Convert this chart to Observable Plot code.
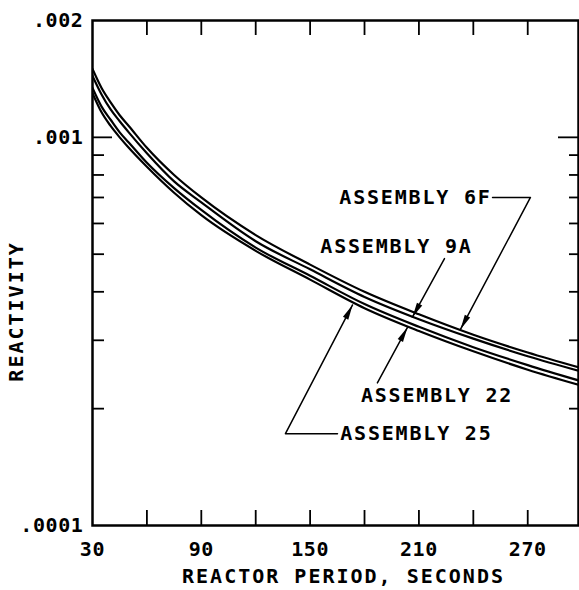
<!DOCTYPE html>
<html><head><meta charset="utf-8">
<script src="https://cdn.jsdelivr.net/npm/d3@7"></script>
<script src="https://cdn.jsdelivr.net/npm/@observablehq/plot@0.6"></script>
<style>
body{margin:0;background:#fff;}
#chart svg text{letter-spacing:0.6px;}
#chart svg .lbl text{letter-spacing:1.8px;}
#chart svg .ttl text{letter-spacing:2.0px;}
</style>
</head><body><div id="chart"></div>
<script>
// Data
const periods = [30, 35, 40, 45, 50, 60, 75, 90, 120, 150, 180, 210, 240, 270, 300];
const rho6F = [0.00150, 0.00134, 0.00123, 0.00114, 0.00107, 0.00094, 0.00080, 0.00070, 0.00056, 0.00047, 0.00040, 0.00035, 0.00031, 0.000279, 0.000254];
const rho9A = [0.00144, 0.00129, 0.00118, 0.00110, 0.00103, 0.00091, 0.00077, 0.00068, 0.00054, 0.000457, 0.000388, 0.00034, 0.000303, 0.000273, 0.000249];
const rho22 = [0.00134, 0.00120, 0.00111, 0.00103, 0.00097, 0.00086, 0.00074, 0.00065, 0.00052, 0.00044, 0.000372, 0.000325, 0.000288, 0.000259, 0.000235];
const rho25 = [0.00130, 0.00116, 0.00107, 0.00100, 0.00094, 0.00084, 0.00072, 0.00063, 0.00051, 0.00043, 0.000363, 0.000317, 0.000281, 0.000252, 0.000229];

const xTickLabels = [30, 90, 150, 210, 270];
const xTickMarks = [60, 90, 120, 150, 180, 210, 240, 270];
const yTickLabels = [0.002, 0.001, 0.0001];
const yTickText = [".002", ".001", ".0001"];
const yMajorMarks = [0.001];
const yMinorMarks = [0.0009, 0.0008, 0.0007, 0.0006, 0.0005, 0.0004, 0.0003, 0.0002];

const xTitle = "REACTOR PERIOD, SECONDS";
const yTitle = "REACTIVITY";
const yTitleAt = 0.000356;

// annotations (data units)
const labelNames = ["ASSEMBLY 6F", "ASSEMBLY 9A", "ASSEMBLY 22", "ASSEMBLY 25"];
const labelT = [208.1, 197.6, 220.0, 208.6];
const labelRho = [0.000700, 0.000523, 0.000216, 0.0001724];
const leader6F = [[250.6, 0.000700], [271.5, 0.000700], [232.9, 0.000320]];
const leader9A = [[224.1, 0.000487], [206.4, 0.000344]];
const leader22 = [[187.1, 0.000233], [203.7, 0.000324]];
const leader25 = [[165.1, 0.0001724], [136.4, 0.0001724], [173.4, 0.000370]];

// layout
const W = 579, H = 590;
const mL = 92, mR = 1, mT = 20, mB = 65;
const xDomain = [30, 298];
const yDomain = [0.0001, 0.002];
const fw = W - mL - mR, fh = H - mT - mB;

const series = [["6F", rho6F], ["9A", rho9A], ["22", rho22], ["25", rho25]];
const curveRows = series.flatMap(([name, vals]) => periods.map((t, i) => ({name, t, r: vals[i]})));
const labels = labelNames.map((s, i) => ({s, t: labelT[i], r: labelRho[i]}));
const leaders = [leader6F, leader9A, leader22, leader25];
const leaderRows = leaders.flatMap((pts, k) => pts.map(([t, r]) => ({k, t, r})));

const sx = Plot.scale({x: {domain: xDomain, range: [mL, W - mR]}});
const sy = Plot.scale({y: {type: "log", domain: yDomain, range: [H - mB, mT]}});
const heads = leaders.map(pts => {
  const a = pts[pts.length - 2], b = pts[pts.length - 1];
  const dx = sx.apply(b[0]) - sx.apply(a[0]);
  const dy = sy.apply(b[1]) - sy.apply(a[1]);
  return {t: b[0], r: b[1], ang: Math.atan2(dx, -dy) * 180 / Math.PI};
});
const headSymbol = {draw(ctx) { ctx.moveTo(0, 0); ctx.lineTo(3, 15); ctx.lineTo(-3, 15); ctx.closePath(); }};

const chart = Plot.plot({
  width: W, height: H,
  marginLeft: mL, marginRight: mR, marginTop: mT, marginBottom: mB,
  style: {fontFamily: "'DejaVu Sans Mono', monospace", fontSize: "20px", fontWeight: "bold", background: "#fff", color: "#000"},
  x: {domain: xDomain},
  y: {type: "log", domain: yDomain},
  marks: [
    Plot.axisX({ticks: xTickLabels, tickSize: 0, tickPadding: 16, label: null, tickFormat: d => String(d)}),
    Plot.axisY({ticks: yTickLabels, tickSize: 0, tickPadding: 9, label: null, tickFormat: d => yTickText[yTickLabels.indexOf(d)]}),
    Plot.tickX(xTickMarks, {x: d => d, insetTop: fh - 15, strokeWidth: 1.8}),
    Plot.tickX(xTickMarks, {x: d => d, insetBottom: fh - 15, strokeWidth: 1.8}),
    Plot.tickY(yMajorMarks, {y: d => d, insetRight: fw - 20, strokeWidth: 1.8}),
    Plot.tickY(yMinorMarks, {y: d => d, insetRight: fw - 12, strokeWidth: 1.8}),
    Plot.tickY(yMajorMarks, {y: d => d, insetLeft: fw - 20, strokeWidth: 1.8}),
    Plot.tickY(yMinorMarks, {y: d => d, insetLeft: fw - 9, strokeWidth: 1.8}),
    Plot.line(curveRows, {x: "t", y: "r", z: "name", curve: "monotone-x", stroke: "#000", strokeWidth: 2.2, clip: true}),
    Plot.line(leaderRows, {x: "t", y: "r", z: "k", stroke: "#000", strokeWidth: 1.5, curve: "linear"}),
    Plot.dot(heads, {x: "t", y: "r", rotate: "ang", symbol: headSymbol, fill: "#000", stroke: null}),
    Plot.text(labels, {x: "t", y: "r", text: "s", textAnchor: "middle", className: "lbl", fill: "#000"}),
    Plot.text([xTitle], {frameAnchor: "bottom", dy: 57, dx: 8, textAnchor: "middle", text: d => d, className: "ttl", fill: "#000"}),
    Plot.text([yTitle], {y: () => yTitleAt, frameAnchor: "left", dx: -76, rotate: -90, textAnchor: "middle", text: d => d, className: "ttl", fill: "#000"}),
    Plot.frame({stroke: "#000", strokeWidth: 2.5})
  ]
});
document.getElementById("chart").appendChild(chart);
</script>
</body></html>
